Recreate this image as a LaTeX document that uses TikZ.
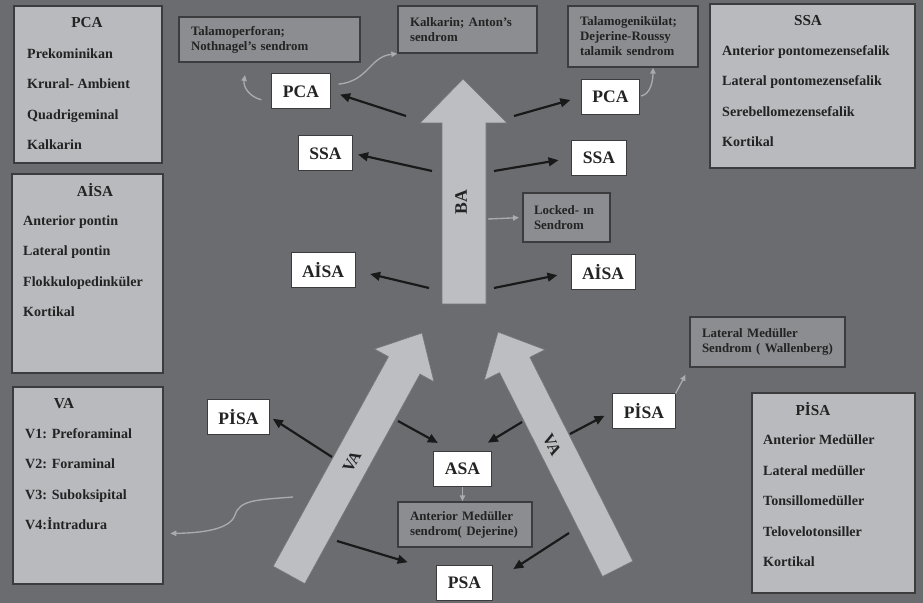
\documentclass[tikz,border=0pt]{standalone}
\usepackage{fontspec}
\setmainfont{Liberation Serif}
\usepackage{tikz}
\usetikzlibrary{arrows.meta, positioning, fit}

\definecolor{fondo}{RGB}{107,108,112}
\definecolor{cajaclara}{RGB}{185,186,190}
\definecolor{cajamedia}{RGB}{140,141,145}
\definecolor{flechagris}{RGB}{189,190,194}
\definecolor{borde}{RGB}{60,60,62}
\definecolor{lineagris}{RGB}{170,171,175}
\definecolor{texto}{RGB}{35,35,35}

\tikzset{
  listbox/.style={draw=borde, line width=0.4mm, fill=cajaclara, inner sep=0pt},
  listtitle/.style={font=\fontsize{13}{15}\selectfont\bfseries, text=texto},
  listitems/.style={font=\fontsize{12}{26}\selectfont\bfseries, align=left, anchor=west, inner sep=0pt, text=texto},
  sendbox/.style={draw=borde, line width=0.4mm, fill=cajamedia, align=left, inner xsep=3.6mm, inner ysep=0pt, font=\fontsize{11}{12.8}\selectfont\bfseries, text=texto},
  artbox/.style={draw=borde, line width=0.3mm, fill=white, minimum height=10.5mm, inner xsep=3.3mm, font=\fontsize{15}{17}\selectfont\bfseries, text=texto},
  bigarrow/.style={fill=flechagris, draw=borde!70, line width=0.2mm},
  arrowlabel/.style={font=\fontsize{14}{16}\selectfont\bfseries, text=texto},
  blackarrow/.style={draw=black!90, line width=0.65mm, -{Triangle[length=3mm,width=2.6mm]}},
  greyarrow/.style={draw=lineagris, line width=0.4mm, -{Triangle[length=1.8mm,width=1.6mm]}},
}

\begin{document}
\begin{tikzpicture}[x=0.3mm, y=-0.3mm]
  \useasboundingbox (0,0) rectangle (923,603);
  % fondo
  \fill[fondo] (0,0) rectangle (923,603);

  % flechas grandes
  \draw[bigarrow] (442,304) -- (442,123) -- (420,123) -- (463,79) -- (507,123) -- (486,123) -- (486,304) -- cycle;
  \draw[bigarrow] (273.2,566.3) -- (388.4,356.7) -- (374.4,349) -- (422,333) -- (434,381.8) -- (420,374.1) -- (304.8,583.7) -- cycle;
  \draw[bigarrow] (602.5,576.5) -- (499.5,372.7) -- (484.3,380.3) -- (498,332) -- (545,349.7) -- (529.9,357.3) -- (632.9,561.1) -- cycle;
  \node[arrowlabel, font=\fontsize{15}{17}\selectfont\bfseries, rotate=90] (balab) at (461,202) {BA};
  \node[arrowlabel, rotate=61] (valab1) at (352,462) {VA};
  \node[arrowlabel, rotate=-63] (valab2) at (552,445) {VA};

  % cajas izquierda
  \node[listbox, fit={(14,6) (162,163)}] (pcabox) {};
  \node[listtitle] (pcatit) at (87,23) {PCA};
  \node[listitems] (pcalist) at (27,99) {Prekominikan\\Krural- Ambient\\Quadrigeminal\\Kalkarin};

  \node[listbox, fit={(12,174) (163,373)}] (aisabox) {};
  \node[listtitle] (aisatit) at (95,190) {AİSA};
  \node[listitems] (aisalist) at (23,266) {Anterior pontin\\Lateral pontin\\Flokkulopedinküler\\Kortikal};

  \node[listbox, fit={(13,387) (163,584)}] (vabox) {};
  \node[listtitle] (vatit) at (64,404) {VA};
  \node[listitems] (valist) at (25,479) {V1: Preforaminal\\V2: Foraminal\\V3: Suboksipital\\V4:İntradura};

  % cajas derecha
  \node[listbox, fit={(710,4) (915,168)}] (ssabox) {};
  \node[listtitle] (ssatit) at (808,21) {SSA};
  \node[listitems] (ssalist) at (722,96) {Anterior pontomezensefalik\\Lateral pontomezensefalik\\Serebellomezensefalik\\Kortikal};

  \node[listbox, fit={(752,393) (915,593)}] (pisabox) {};
  \node[listtitle] (pisatit) at (813,409) {PİSA};
  \node[listitems] (pisalist) at (763,501) {Anterior Medüller\\Lateral medüller\\Tonsillomedüller\\Telovelotonsiller\\Kortikal};

  % sendromlar
  \node[sendbox, text width=47.1mm, minimum height=13.5mm] (tp) at (269.5,39.5) {Talamoperforan;\\Nothnagel’s~sendrom};
  \node[sendbox, text width=34.5mm, minimum height=14.1mm] (kalk) at (467.5,29.5) {Kalkarin;~Anton’s\\sendrom};
  \node[sendbox, text width=31.8mm, minimum height=18.3mm] (tg) at (633,36.5) {Talamogenikülat;\\Dejerine-Roussy\\talamik~sendrom};
  \node[sendbox, text width=19.5mm, minimum height=14.7mm, inner xsep=3.3mm] (locked) at (566.5,217.5) {Locked-~ın\\Sendrom};
  \node[sendbox, text width=39.3mm, minimum height=15mm] (latmed) at (767.5,342) {Lateral~Medüller\\Sendrom~(~Wallenberg)};
  \node[sendbox, text width=33mm, minimum height=13.5mm] (antmed) at (465,524.5) {Anterior~Medüller\\sendrom(~Dejerine)};

  % arterler
  \node[artbox] (pcal) at (301,91.5) {PCA};
  \node[artbox] (ssal) at (325.5,153.5) {SSA};
  \node[artbox] (aisal) at (323,270.5) {AİSA};
  \node[artbox] (pcar) at (610.5,97) {PCA};
  \node[artbox] (ssar) at (599,158) {SSA};
  \node[artbox] (aisar) at (603,272.5) {AİSA};
  \node[artbox] (pisal) at (238.5,417) {PİSA};
  \node[artbox] (pisar) at (644,411.5) {PİSA};
  \node[artbox] (asa) at (462.5,469) {ASA};
  \node[artbox] (psa) at (464.5,582.5) {PSA};

  % salidas
  \coordinate (ba1) at (406,116);
  \coordinate (ba2) at (432,171);
  \coordinate (ba3) at (429,288);
  \coordinate (ba4) at (514,116);
  \coordinate (ba5) at (494,171);
  \coordinate (ba6) at (494,288);
  \coordinate (ba7) at (488,219);
  \coordinate (va1) at (332,457);
  \coordinate (va2) at (398,421);
  \coordinate (va3) at (522,422);
  \coordinate (va4) at (570,434);
  \coordinate (va5) at (337,541);
  \coordinate (va6) at (569,533);
  \coordinate (va7) at (293,497);
  \coordinate (tpend) at (245,75);

  % flechas negras
  \draw[blackarrow, shorten >=3mm] (ba1) -- (pcal.east);
  \draw[blackarrow, shorten >=1.5mm] (ba2) -- (ssal.east);
  \draw[blackarrow, shorten >=4.5mm] (ba3) -- (aisal.east);
  \draw[blackarrow, shorten >=3.3mm] (ba4) -- (pcar.west);
  \draw[blackarrow, shorten >=3.9mm] (ba5) -- (ssar.west);
  \draw[blackarrow, shorten >=4mm] (ba6) -- (aisar.west);
  \draw[blackarrow, shorten >=1mm] (va1) -- (pisal.east);
  \draw[blackarrow, shorten >=5mm] (va2) -- ([xshift=-3mm]asa.north);
  \draw[blackarrow, shorten >=4.8mm] (va3) -- ([xshift=3.5mm]asa.north);
  \draw[blackarrow, shorten >=2.7mm] (va4) -- (pisar.west);
  \draw[blackarrow, shorten >=9mm] (va5) -- ([yshift=3.5mm]psa.west);
  \draw[blackarrow, shorten >=7.4mm] (va6) -- (psa.east);

  % flechas grises
  \draw[greyarrow] ([shift={(-3mm,-2.5mm)}]pcal.west) .. controls +(-12,-3) and +(-2,12) .. (tpend);
  \draw[greyarrow] ([shift={(2.4mm,2.2mm)}]pcal.east) .. controls +(30,-3) and +(-28,3) .. (kalk.south west);
  \draw[greyarrow] ([shift={(0.3mm,0.3mm)}]pcar.east) .. controls +(10,-2) and +(0,12) .. ([xshift=6mm]tg.south);
  \draw[greyarrow, shorten >=1mm] (ba7) -- (locked.west);
  \draw[greyarrow] (asa.south) -- (asa.south |- antmed.north);
  \draw[greyarrow, shorten >=2.4mm] (pisar.north east) -- (latmed.south west);
  \draw[greyarrow, shorten >=2mm] (va7) .. controls (255,500) and (240,500) .. (235,515) .. controls (230,530) and (200,533) .. ([yshift=-14.4mm]vabox.east);
\end{tikzpicture}
\end{document}
